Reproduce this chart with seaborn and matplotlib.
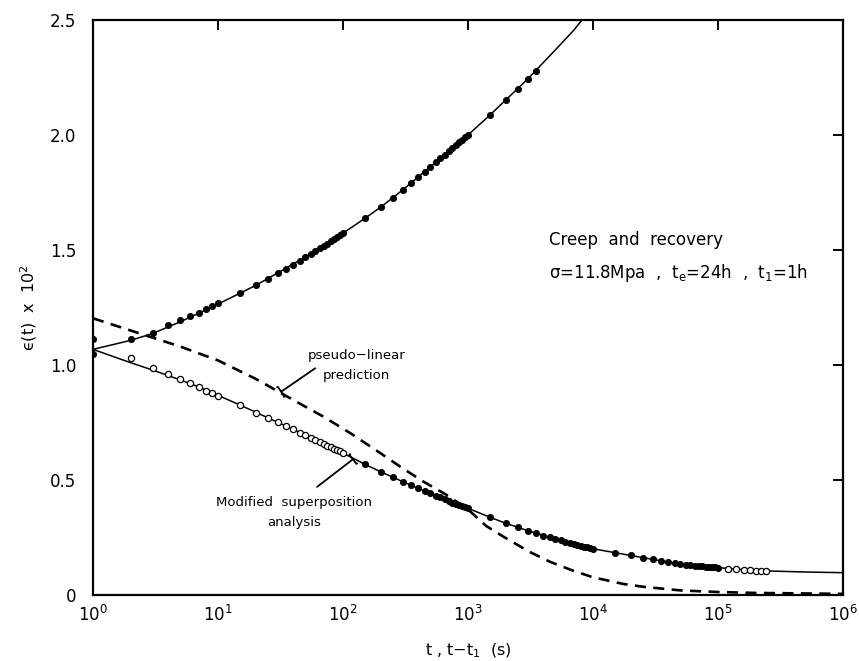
import matplotlib
matplotlib.use("Agg")
import matplotlib.pyplot as plt
import matplotlib.ticker as mticker
import seaborn as sns

# ---- creep curve (model) --------------------------------------------------
creep_curve_t = [1, 2, 3, 5, 7, 10, 15, 20, 30, 50, 70, 100, 150, 200, 300,
                 500, 700, 1000, 1500, 2000, 3000, 5000, 7000, 10000]
creep_curve_v = [1.068, 1.107, 1.137, 1.188, 1.225, 1.265, 1.312, 1.346, 1.400,
                 1.470, 1.520, 1.573, 1.638, 1.686, 1.761, 1.862, 1.930, 2.000,
                 2.087, 2.152, 2.243, 2.370, 2.455, 2.560]

# ---- recovery curve (modified superposition) ------------------------------
rec_curve_t = [1, 2, 3, 5, 7, 10, 15, 20, 30, 50, 70, 100, 150, 200, 300, 500,
               700, 1000, 1500, 2000, 3000, 5000, 7000, 1e4, 1.5e4, 2e4, 3e4,
               5e4, 7e4, 1e5, 2e5, 5e5, 1e6]
rec_curve_v = [1.068, 1.010, 0.978, 0.935, 0.905, 0.868, 0.826, 0.795, 0.751,
               0.695, 0.657, 0.617, 0.568, 0.536, 0.493, 0.442, 0.408, 0.377,
               0.338, 0.312, 0.280, 0.244, 0.222, 0.201, 0.184, 0.172, 0.155,
               0.135, 0.126, 0.119, 0.106, 0.100, 0.097]

# ---- pseudo-linear prediction ---------------------------------------------
pseudo_t = [1, 2, 5, 10, 20, 40, 70, 115, 200, 300, 440, 675, 1000, 1400,
            1900, 3100, 4500, 6900, 1e4, 1.75e4, 2.5e4, 5e4, 1e5, 2e5, 1e6]
pseudo_v = [1.203, 1.150, 1.080, 1.020, 0.940, 0.848, 0.775, 0.703, 0.616,
            0.551, 0.493, 0.435, 0.372, 0.300, 0.255, 0.188, 0.145, 0.106,
            0.077, 0.048, 0.036, 0.020, 0.013, 0.009, 0.005]

# ---- creep measurements ---------------------------------------------------
creep_t = [1, 2, 3, 4, 5, 6, 7, 8, 9, 10,
           15, 20, 25, 30, 35, 40, 45, 50, 55, 60, 65, 70, 75, 80, 85, 90, 95, 100,
           150, 200, 250, 300, 350, 400, 450, 500, 550, 600, 650, 700, 750, 800,
           850, 900, 950, 1000,
           1500, 2000, 2500, 3000, 3500]
creep_v = [1.112, 1.112, 1.140, 1.172, 1.194, 1.212, 1.227, 1.242, 1.256, 1.268,
           1.314, 1.346, 1.372, 1.398, 1.417, 1.435, 1.452, 1.470, 1.483, 1.496,
           1.507, 1.518, 1.528, 1.538, 1.547, 1.556, 1.564, 1.572,
           1.638, 1.686, 1.725, 1.761, 1.790, 1.816, 1.840, 1.862, 1.881, 1.899,
           1.915, 1.930, 1.944, 1.957, 1.969, 1.980, 1.990, 2.000,
           2.087, 2.152, 2.199, 2.243, 2.278]

# ---- recovery measurements ------------------------------------------------
rec_open_early_t = [2, 3, 4, 5, 6, 7, 8, 9, 10, 15, 20, 25, 30, 35, 40, 45, 50,
                    55, 60, 65, 70, 75, 80, 85, 90, 95, 100]
rec_open_early_v = [1.032, 0.988, 0.963, 0.940, 0.920, 0.905, 0.889, 0.877,
                    0.865, 0.826, 0.793, 0.768, 0.751, 0.735, 0.722, 0.706,
                    0.695, 0.684, 0.674, 0.665, 0.657, 0.650, 0.643, 0.636,
                    0.630, 0.624, 0.617]

rec_filled_t = [1,
                150, 200, 250, 300, 350, 400, 450, 500, 550, 600, 650, 700, 750,
                800, 850, 900, 950, 1000,
                1500, 2000, 2500, 3000, 3500, 4000, 4500, 5000, 5500, 6000, 6500,
                7000, 7500, 8000, 8500, 9000, 9500, 10000,
                15000, 20000, 25000, 30000, 35000, 40000, 45000, 50000, 55000,
                60000, 65000, 70000, 75000, 80000, 85000, 90000, 95000, 100000]
rec_filled_v = [1.050,
                0.568, 0.536, 0.512, 0.493, 0.477, 0.464, 0.452, 0.442, 0.432,
                0.424, 0.416, 0.408, 0.401, 0.396, 0.390, 0.385, 0.381, 0.377,
                0.338, 0.312, 0.294, 0.280, 0.268, 0.258, 0.251, 0.244, 0.238,
                0.232, 0.227, 0.222, 0.218, 0.214, 0.210, 0.207, 0.204, 0.201,
                0.184, 0.172, 0.163, 0.155, 0.149, 0.144, 0.139, 0.135, 0.132,
                0.130, 0.128, 0.126, 0.124, 0.123, 0.122, 0.121, 0.120, 0.119]

rec_open_late_t = [120000, 140000, 160000, 180000, 200000, 220000, 240000]
rec_open_late_v = [0.115, 0.112, 0.110, 0.108, 0.106, 0.105, 0.104]

# ---- axis text ------------------------------------------------------------
y_ticks = [0, 0.5, 1.0, 1.5, 2.0, 2.5]
y_tick_labels = ["0", "0.5", "1.0", "1.5", "2.0", "2.5"]
x_ticks = [1, 10, 100, 1e3, 1e4, 1e5, 1e6]

sns.set_theme(style="white")
plt.rcParams["font.family"] = ["DejaVu Sans"]
plt.rcParams["mathtext.default"] = "regular"
plt.rcParams["text.color"] = "black"
plt.rcParams["axes.labelcolor"] = "black"
plt.rcParams["xtick.color"] = "black"
plt.rcParams["ytick.color"] = "black"

fig = plt.figure(figsize=(8.59, 6.61), dpi=100)
ax = fig.add_axes([93 / 859, 66 / 661, 750 / 859, 575 / 661])

line_kw = dict(ax=ax, color="black", sort=False, estimator=None)
sns.lineplot(x=creep_curve_t, y=creep_curve_v, linewidth=1.1, **line_kw)
sns.lineplot(x=rec_curve_t, y=rec_curve_v, linewidth=1.1, **line_kw)
sns.lineplot(x=pseudo_t, y=pseudo_v, linewidth=1.9,
             linestyle=(0, (4.2, 2.8)), **line_kw)

filled_kw = dict(ax=ax, color="black", edgecolor="black", s=20, linewidth=0.6,
                 marker="o", zorder=4)
open_kw = dict(ax=ax, color="white", edgecolor="black", s=20, linewidth=0.9,
               marker="o", zorder=4)
sns.scatterplot(x=creep_t, y=creep_v, **filled_kw)
sns.scatterplot(x=rec_filled_t, y=rec_filled_v, **filled_kw)
sns.scatterplot(x=rec_open_early_t, y=rec_open_early_v, **open_kw)
sns.scatterplot(x=rec_open_late_t, y=rec_open_late_v, **open_kw)

ax.set_xscale("log")
ax.set_xlim(1, 1e6)
ax.set_ylim(0, 2.5)
ax.set_xticks(x_ticks)
ax.xaxis.set_major_formatter(mticker.LogFormatterSciNotation())
ax.xaxis.set_minor_locator(mticker.NullLocator())
ax.set_yticks(y_ticks)
ax.set_yticklabels(y_tick_labels)

for sp in ax.spines.values():
    sp.set_visible(True)
    sp.set_color("black")
    sp.set_linewidth(1.6)

ax.tick_params(which="major", direction="in", top=True, right=True,
               length=7, width=1.4, colors="black", labelsize=12)
ax.tick_params(axis="y", pad=12)
ax.tick_params(axis="x", pad=7)

ax.set_xlabel(r"t , t$-$t$_1$  (s)", fontsize=11.5, labelpad=12)
ax.set_ylabel(r"ϵ(t)  x  10$^2$", fontsize=11.5, labelpad=8)

# annotations
ax.text(0.608, 0.617, "Creep  and  recovery", transform=ax.transAxes,
        fontsize=12, ha="left", va="center")
ax.text(0.608, 0.560, r"σ=11.8Mpa  ,  t$_e$=24h  ,  t$_1$=1h",
        transform=ax.transAxes, fontsize=12, ha="left", va="center")

ax.text(129, 1.0, "pseudo−linear\nprediction", fontsize=9.5, ha="center",
        va="center", linespacing=1.7)
ax.annotate("", xy=(32, 0.884), xytext=(60, 0.986),
            arrowprops=dict(arrowstyle="-[, widthB=0.35, lengthB=0.05",
                            color="black", lw=1.3, shrinkA=0, shrinkB=0))

ax.text(40.5, 0.36, "Modified  superposition\nanalysis", fontsize=9.5,
        ha="center", va="center", linespacing=1.7)
ax.annotate("", xy=(120, 0.59), xytext=(62, 0.47),
            arrowprops=dict(arrowstyle="-[, widthB=0.35, lengthB=0.05",
                            color="black", lw=1.3, shrinkA=0, shrinkB=0))

fig.savefig("out.png", dpi=100)
